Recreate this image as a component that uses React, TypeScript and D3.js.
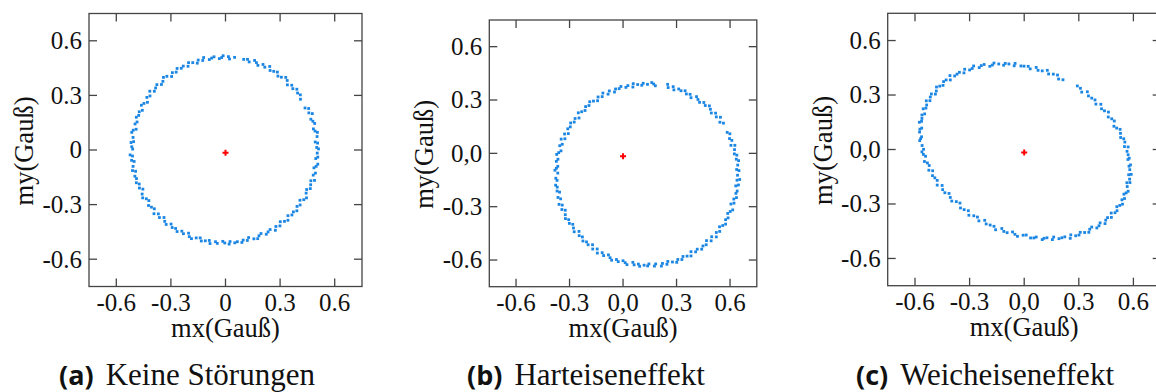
import * as d3 from "d3";

// magnetometer readings (mx, my) in Gauß
const KEINE_STOERUNG: [number, number][] = [
  [0.511, 0.006], [0.501, 0.014], [0.506, 0.038], [0.493, 0.044], [0.503, 0.074], [0.505, 0.097], [0.492, 0.104], [0.483, 0.116],
  [0.49, 0.146], [0.48, 0.158], [0.469, 0.169], [0.477, 0.2], [0.458, 0.204], [0.457, 0.228], [0.437, 0.231], [0.412, 0.279],
  [0.411, 0.303], [0.396, 0.313], [0.392, 0.334], [0.37, 0.337], [0.364, 0.356], [0.34, 0.358], [0.339, 0.382], [0.331, 0.399],
  [0.307, 0.4], [0.288, 0.406], [0.285, 0.428], [0.265, 0.432], [0.245, 0.437], [0.243, 0.459], [0.216, 0.455], [0.206, 0.47],
  [0.178, 0.465], [0.17, 0.48], [0.16, 0.492], [0.13, 0.484], [0.121, 0.498], [0.1, 0.498], [0.05, 0.509], [0.022, 0.5],
  [0.016, 0.513],
  [-0.013, 0.518], [-0.021, 0.508], [-0.034, 0.502], [-0.063, 0.512], [-0.076, 0.505], [-0.089, 0.497], [-0.12, 0.508], [-0.125, 0.492],
  [-0.15, 0.494], [-0.155, 0.477], [-0.18, 0.48], [-0.203, 0.48], [-0.206, 0.46], [-0.232, 0.461], [-0.243, 0.449], [-0.266, 0.448],
  [-0.271, 0.428], [-0.292, 0.425], [-0.296, 0.404], [-0.322, 0.405], [-0.341, 0.399], [-0.344, 0.377], [-0.352, 0.36], [-0.377, 0.359],
  [-0.384, 0.341], [-0.391, 0.323], [-0.416, 0.323], [-0.415, 0.297], [-0.432, 0.289], [-0.429, 0.262], [-0.448, 0.256], [-0.462, 0.246],
  [-0.457, 0.218], [-0.474, 0.21], [-0.477, 0.19], [-0.49, 0.18], [-0.486, 0.154], [-0.497, 0.143], [-0.491, 0.114], [-0.507, 0.109],
  [-0.515, 0.097], [-0.508, 0.069], [-0.505, 0.046], [-0.519, 0.041], [-0.515, 0.018],
  [-0.51, 0.005], [-0.524, -0.027], [-0.511, -0.033], [-0.516, -0.057], [-0.502, -0.063], [-0.508, -0.09], [-0.511, -0.113], [-0.494, -0.117],
  [-0.498, -0.144], [-0.489, -0.157], [-0.49, -0.18], [-0.474, -0.187], [-0.473, -0.209], [-0.454, -0.215], [-0.458, -0.242], [-0.455, -0.263],
  [-0.435, -0.268], [-0.421, -0.278], [-0.423, -0.305], [-0.407, -0.314], [-0.391, -0.323], [-0.393, -0.35], [-0.369, -0.351], [-0.363, -0.371],
  [-0.338, -0.371], [-0.334, -0.392], [-0.326, -0.409], [-0.299, -0.407], [-0.293, -0.426], [-0.274, -0.431], [-0.266, -0.448], [-0.24, -0.446],
  [-0.231, -0.46], [-0.203, -0.457], [-0.199, -0.476], [-0.187, -0.487], [-0.161, -0.483], [-0.139, -0.483], [-0.133, -0.5], [-0.111, -0.499],
  [-0.089, -0.497], [-0.085, -0.514], [-0.055, -0.504], [-0.045, -0.513], [-0.015, -0.502],
  [-0.004, -0.511], [0.02, -0.517], [0.025, -0.503], [0.051, -0.51], [0.065, -0.504], [0.09, -0.508], [0.097, -0.495], [0.12, -0.497],
  [0.127, -0.481], [0.156, -0.488], [0.177, -0.487], [0.184, -0.471], [0.195, -0.459], [0.224, -0.463], [0.234, -0.45], [0.245, -0.437],
  [0.274, -0.441], [0.277, -0.42], [0.299, -0.417], [0.301, -0.394], [0.324, -0.392], [0.343, -0.386], [0.343, -0.361], [0.365, -0.357],
  [0.373, -0.34], [0.392, -0.334], [0.393, -0.31], [0.41, -0.302], [0.409, -0.276], [0.43, -0.273], [0.445, -0.263], [0.443, -0.237],
  [0.446, -0.217], [0.466, -0.212], [0.468, -0.191], [0.469, -0.169], [0.489, -0.167], [0.482, -0.138], [0.494, -0.127], [0.486, -0.098],
  [0.498, -0.09], [0.507, -0.078], [0.496, -0.047], [0.507, -0.039], [0.504, -0.017],
];

const HARTEISEN: [number, number][] = [
  [0.642, -0.123], [0.65, -0.097], [0.637, -0.091], [0.643, -0.066], [0.648, -0.041], [0.635, -0.033], [0.638, -0.01], [0.624, -0.003],
  [0.625, 0.021], [0.627, 0.045], [0.605, 0.045], [0.61, 0.073], [0.597, 0.083], [0.599, 0.11], [0.584, 0.118], [0.563, 0.17],
  [0.543, 0.175], [0.546, 0.203], [0.523, 0.205], [0.519, 0.226], [0.495, 0.227], [0.49, 0.248], [0.484, 0.267], [0.461, 0.269],
  [0.453, 0.286], [0.429, 0.287], [0.42, 0.303], [0.412, 0.319], [0.381, 0.313], [0.376, 0.332], [0.355, 0.334], [0.348, 0.352],
  [0.325, 0.352], [0.312, 0.362], [0.285, 0.357], [0.281, 0.375], [0.253, 0.37], [0.25, 0.388], [0.181, 0.38], [0.172, 0.39],
  [0.161, 0.398],
  [0.137, 0.388], [0.113, 0.394], [0.105, 0.383], [0.082, 0.387], [0.057, 0.392], [0.055, 0.373], [0.027, 0.381], [0.016, 0.371],
  [-0.012, 0.376], [-0.022, 0.364], [-0.042, 0.362], [-0.048, 0.345], [-0.077, 0.351], [-0.084, 0.333], [-0.113, 0.339], [-0.117, 0.319],
  [-0.14, 0.317], [-0.143, 0.296], [-0.166, 0.294], [-0.187, 0.29], [-0.191, 0.269], [-0.21, 0.263], [-0.213, 0.241], [-0.232, 0.234],
  [-0.251, 0.228], [-0.247, 0.199], [-0.269, 0.196], [-0.274, 0.176], [-0.294, 0.171], [-0.296, 0.149], [-0.31, 0.138], [-0.307, 0.111],
  [-0.328, 0.109], [-0.326, 0.082], [-0.347, 0.08], [-0.341, 0.051], [-0.355, 0.043], [-0.348, 0.014], [-0.361, 0.004], [-0.372, -0.006],
  [-0.365, -0.033], [-0.374, -0.045], [-0.366, -0.073], [-0.374, -0.084], [-0.382, -0.095],
  [-0.366, -0.111], [-0.377, -0.14], [-0.37, -0.152], [-0.378, -0.179], [-0.369, -0.19], [-0.37, -0.212], [-0.356, -0.218], [-0.365, -0.248],
  [-0.35, -0.256], [-0.359, -0.287], [-0.341, -0.291], [-0.343, -0.316], [-0.324, -0.32], [-0.324, -0.345], [-0.323, -0.367], [-0.305, -0.373],
  [-0.301, -0.394], [-0.282, -0.399], [-0.278, -0.42], [-0.274, -0.441], [-0.247, -0.439], [-0.246, -0.463], [-0.228, -0.47], [-0.225, -0.493],
  [-0.205, -0.498], [-0.196, -0.514], [-0.171, -0.514], [-0.17, -0.538], [-0.145, -0.538], [-0.144, -0.561], [-0.117, -0.559], [-0.109, -0.575],
  [-0.082, -0.571], [-0.073, -0.587], [-0.064, -0.601], [-0.037, -0.597], [-0.027, -0.609], [0.0, -0.604], [0.012, -0.615], [0.022, -0.626],
  [0.055, -0.613], [0.062, -0.627], [0.086, -0.623], [0.093, -0.635], [0.118, -0.629],
  [0.138, -0.633], [0.145, -0.622], [0.176, -0.634], [0.183, -0.622], [0.215, -0.634], [0.221, -0.619], [0.246, -0.624], [0.251, -0.608],
  [0.277, -0.611], [0.301, -0.613], [0.307, -0.597], [0.33, -0.597], [0.336, -0.58], [0.359, -0.578], [0.381, -0.577], [0.381, -0.553],
  [0.407, -0.554], [0.416, -0.539], [0.441, -0.539], [0.448, -0.521], [0.466, -0.514], [0.468, -0.491], [0.494, -0.492], [0.497, -0.469],
  [0.523, -0.47], [0.523, -0.445], [0.542, -0.439], [0.541, -0.413], [0.559, -0.406], [0.575, -0.398], [0.575, -0.373], [0.589, -0.363],
  [0.587, -0.338], [0.601, -0.327], [0.615, -0.318], [0.605, -0.285], [0.622, -0.28], [0.621, -0.257], [0.636, -0.249], [0.633, -0.225],
  [0.64, -0.212], [0.632, -0.183], [0.647, -0.178], [0.639, -0.151], [0.654, -0.147],
];

const WEICHEISEN: [number, number][] = [
  [0.551, -0.27], [0.548, -0.246], [0.56, -0.239], [0.571, -0.23], [0.566, -0.204], [0.564, -0.183], [0.581, -0.182], [0.579, -0.163],
  [0.574, -0.139], [0.588, -0.137], [0.58, -0.111], [0.576, -0.092], [0.584, -0.085], [0.57, -0.055], [0.577, -0.048], [0.571, -0.029],
  [0.565, -0.01], [0.571, 0.014], [0.551, 0.016], [0.553, 0.041], [0.547, 0.059], [0.53, 0.066], [0.529, 0.089], [0.527, 0.111],
  [0.508, 0.118], [0.493, 0.128], [0.495, 0.157], [0.481, 0.169], [0.462, 0.179], [0.463, 0.206], [0.441, 0.213], [0.425, 0.224],
  [0.421, 0.249], [0.394, 0.25], [0.389, 0.273], [0.371, 0.283], [0.353, 0.295], [0.347, 0.318], [0.316, 0.316], [0.309, 0.337],
  [0.292, 0.35], [0.213, 0.384],
  [0.189, 0.388], [0.183, 0.41], [0.16, 0.415], [0.134, 0.416], [0.127, 0.436], [0.099, 0.433], [0.076, 0.436], [0.066, 0.452],
  [0.033, 0.444], [0.022, 0.458], [-0.001, 0.459], [-0.018, 0.46], [-0.05, 0.474], [-0.055, 0.461], [-0.084, 0.471], [-0.104, 0.474],
  [-0.113, 0.464], [-0.14, 0.471], [-0.166, 0.476], [-0.175, 0.465], [-0.189, 0.458], [-0.22, 0.468], [-0.236, 0.462], [-0.247, 0.451],
  [-0.278, 0.46], [-0.286, 0.446], [-0.3, 0.438], [-0.327, 0.442], [-0.331, 0.422], [-0.356, 0.425], [-0.369, 0.415], [-0.382, 0.405],
  [-0.408, 0.407], [-0.406, 0.383], [-0.429, 0.383], [-0.443, 0.374], [-0.446, 0.353], [-0.464, 0.349], [-0.482, 0.344], [-0.483, 0.322],
  [-0.488, 0.305], [-0.51, 0.306], [-0.516, 0.289], [-0.518, 0.269], [-0.538, 0.268],
  [-0.536, 0.245], [-0.54, 0.228], [-0.555, 0.224], [-0.547, 0.196], [-0.562, 0.19], [-0.562, 0.171], [-0.564, 0.155], [-0.576, 0.15],
  [-0.563, 0.118], [-0.573, 0.112], [-0.575, 0.096], [-0.564, 0.07], [-0.569, 0.06], [-0.574, 0.049], [-0.561, 0.022], [-0.553, 0.001],
  [-0.562, -0.013], [-0.554, -0.027], [-0.542, -0.037], [-0.548, -0.066], [-0.532, -0.074], [-0.522, -0.088], [-0.524, -0.114], [-0.503, -0.117],
  [-0.504, -0.144], [-0.491, -0.156], [-0.478, -0.17], [-0.478, -0.196], [-0.451, -0.198], [-0.448, -0.221], [-0.436, -0.238], [-0.413, -0.242],
  [-0.406, -0.264], [-0.398, -0.284], [-0.373, -0.287], [-0.353, -0.295], [-0.35, -0.322], [-0.33, -0.331], [-0.307, -0.337], [-0.304, -0.362],
  [-0.277, -0.365], [-0.257, -0.372], [-0.249, -0.393], [-0.217, -0.39], [-0.209, -0.41],
  [-0.187, -0.416], [-0.166, -0.423], [-0.157, -0.442], [-0.123, -0.435], [-0.112, -0.451], [-0.094, -0.458], [-0.064, -0.454], [-0.051, -0.467],
  [-0.037, -0.478], [-0.006, -0.472], [0.011, -0.471], [0.035, -0.487], [0.053, -0.487], [0.066, -0.482], [0.099, -0.496], [0.109, -0.489],
  [0.125, -0.486], [0.155, -0.496], [0.162, -0.482], [0.191, -0.491], [0.207, -0.486], [0.223, -0.481], [0.253, -0.489], [0.256, -0.47],
  [0.283, -0.475], [0.301, -0.471], [0.308, -0.456], [0.332, -0.457], [0.355, -0.456], [0.36, -0.439], [0.371, -0.427], [0.399, -0.432],
  [0.411, -0.42], [0.417, -0.404], [0.444, -0.408], [0.448, -0.389], [0.458, -0.375], [0.479, -0.374], [0.478, -0.35], [0.499, -0.348],
  [0.51, -0.337], [0.509, -0.315], [0.525, -0.308], [0.54, -0.301], [0.537, -0.277],
];

// computed offset centre (red cross) per plot
const CENTRE_A: [number, number] = [0.0, -0.015];
const CENTRE_B: [number, number] = [0.0, -0.017];
const CENTRE_C: [number, number] = [0.0, -0.017];

const TICKS = [-0.6, -0.3, 0, 0.3, 0.6];
const ZERO_LABEL = ["0", "0,0", "0,0"];
const SUB_LETTERS = ["(a)", "(b)", "(c)"];
const SUB_TITLES = ["Keine Störungen", "Harteiseneffekt", "Weicheiseneffekt"];

const SERIF = "'Liberation Serif', 'Times New Roman', serif";
const FRAME = "#444";

const panels = [
  { pts: KEINE_STOERUNG, centre: CENTRE_A, left: 89, top: 13.5, w: 273, h: 273, capX: 187 },
  { pts: HARTEISEN, centre: CENTRE_B, left: 489.3, top: 20, w: 267.5, h: 266.7, capX: 586 },
  { pts: WEICHEISEN, centre: CENTRE_C, left: 887.7, top: 13.3, w: 273, h: 272.4, capX: 985 },
];

function Panel({ p, idx }: { p: (typeof panels)[number]; idx: number }) {
  const x = d3.scaleLinear().domain([-0.75, 0.75]).range([p.left, p.left + p.w]);
  const y = d3.scaleLinear().domain([-0.75, 0.75]).range([p.top + p.h, p.top]);
  const bottom = p.top + p.h;
  const right = p.left + p.w;
  const fmt = (v: number) => (v === 0 ? ZERO_LABEL[idx] : d3.format(".1f")(v).replace("−", "-"));
  const tl = 8;
  const cross = d3.symbol(d3.symbolCross, 20)()!;

  return (
    <g>
      {/* data points */}
      {p.pts.map(([mx, my], i) => (
        <rect key={i} x={x(mx) - 1.4} y={y(my) - 1.4} width={2.8} height={2.8} fill="#1c86e3" />
      ))}
      <path d={cross} transform={`translate(${x(p.centre[0])},${y(p.centre[1])})`} fill="#ff0000" />

      {/* frame + inward ticks on all four sides */}
      <rect x={p.left} y={p.top} width={p.w} height={p.h} fill="none" stroke={FRAME} strokeWidth={1.3} />
      {TICKS.map((t) => (
        <g key={t} stroke={FRAME} strokeWidth={1.3}>
          <line x1={x(t)} x2={x(t)} y1={bottom} y2={bottom - tl} />
          <line x1={x(t)} x2={x(t)} y1={p.top} y2={p.top + tl} />
          <line x1={p.left} x2={p.left + tl} y1={y(t)} y2={y(t)} />
          <line x1={right} x2={right - tl} y1={y(t)} y2={y(t)} />
        </g>
      ))}

      {/* tick labels */}
      <g fontFamily={SERIF} fontSize={25} fill="#111">
        {TICKS.map((t) => (
          <text key={"x" + t} x={x(t)} y={bottom + 24} textAnchor="middle">
            {fmt(t)}
          </text>
        ))}
        {TICKS.map((t) => (
          <text key={"y" + t} x={p.left - 7} y={y(t) + 8.3} textAnchor="end">
            {fmt(t)}
          </text>
        ))}
      </g>

      {/* axis titles */}
      <text x={p.left + p.w / 2} y={bottom + 50} textAnchor="middle" fontFamily={SERIF} fontSize={26.5} fill="#111">
        mx(Gauß)
      </text>
      <text
        transform={`translate(${p.left - 56},${p.top + p.h / 2 + 1}) rotate(-90)`}
        textAnchor="middle"
        fontFamily={SERIF}
        fontSize={26.5}
        fill="#111"
      >
        my(Gauß)
      </text>

      {/* caption */}
      <text x={p.capX} y={385} textAnchor="middle" fill="#111">
        <tspan fontFamily="'Open Sans', sans-serif" fontWeight={700} fontSize={27}>
          {SUB_LETTERS[idx]}
        </tspan>
        <tspan fontFamily={SERIF} fontSize={31} dx={12}>
          {SUB_TITLES[idx]}
        </tspan>
      </text>
    </g>
  );
}

export default function App() {
  return (
    <svg
      width={1156}
      height={392}
      style={{ position: "absolute", left: 0, top: 0, background: "#fff", overflow: "hidden" }}
    >
      <rect width={1156} height={392} fill="#fff" />
      {panels.map((p, i) => (
        <Panel key={i} p={p} idx={i} />
      ))}
    </svg>
  );
}
